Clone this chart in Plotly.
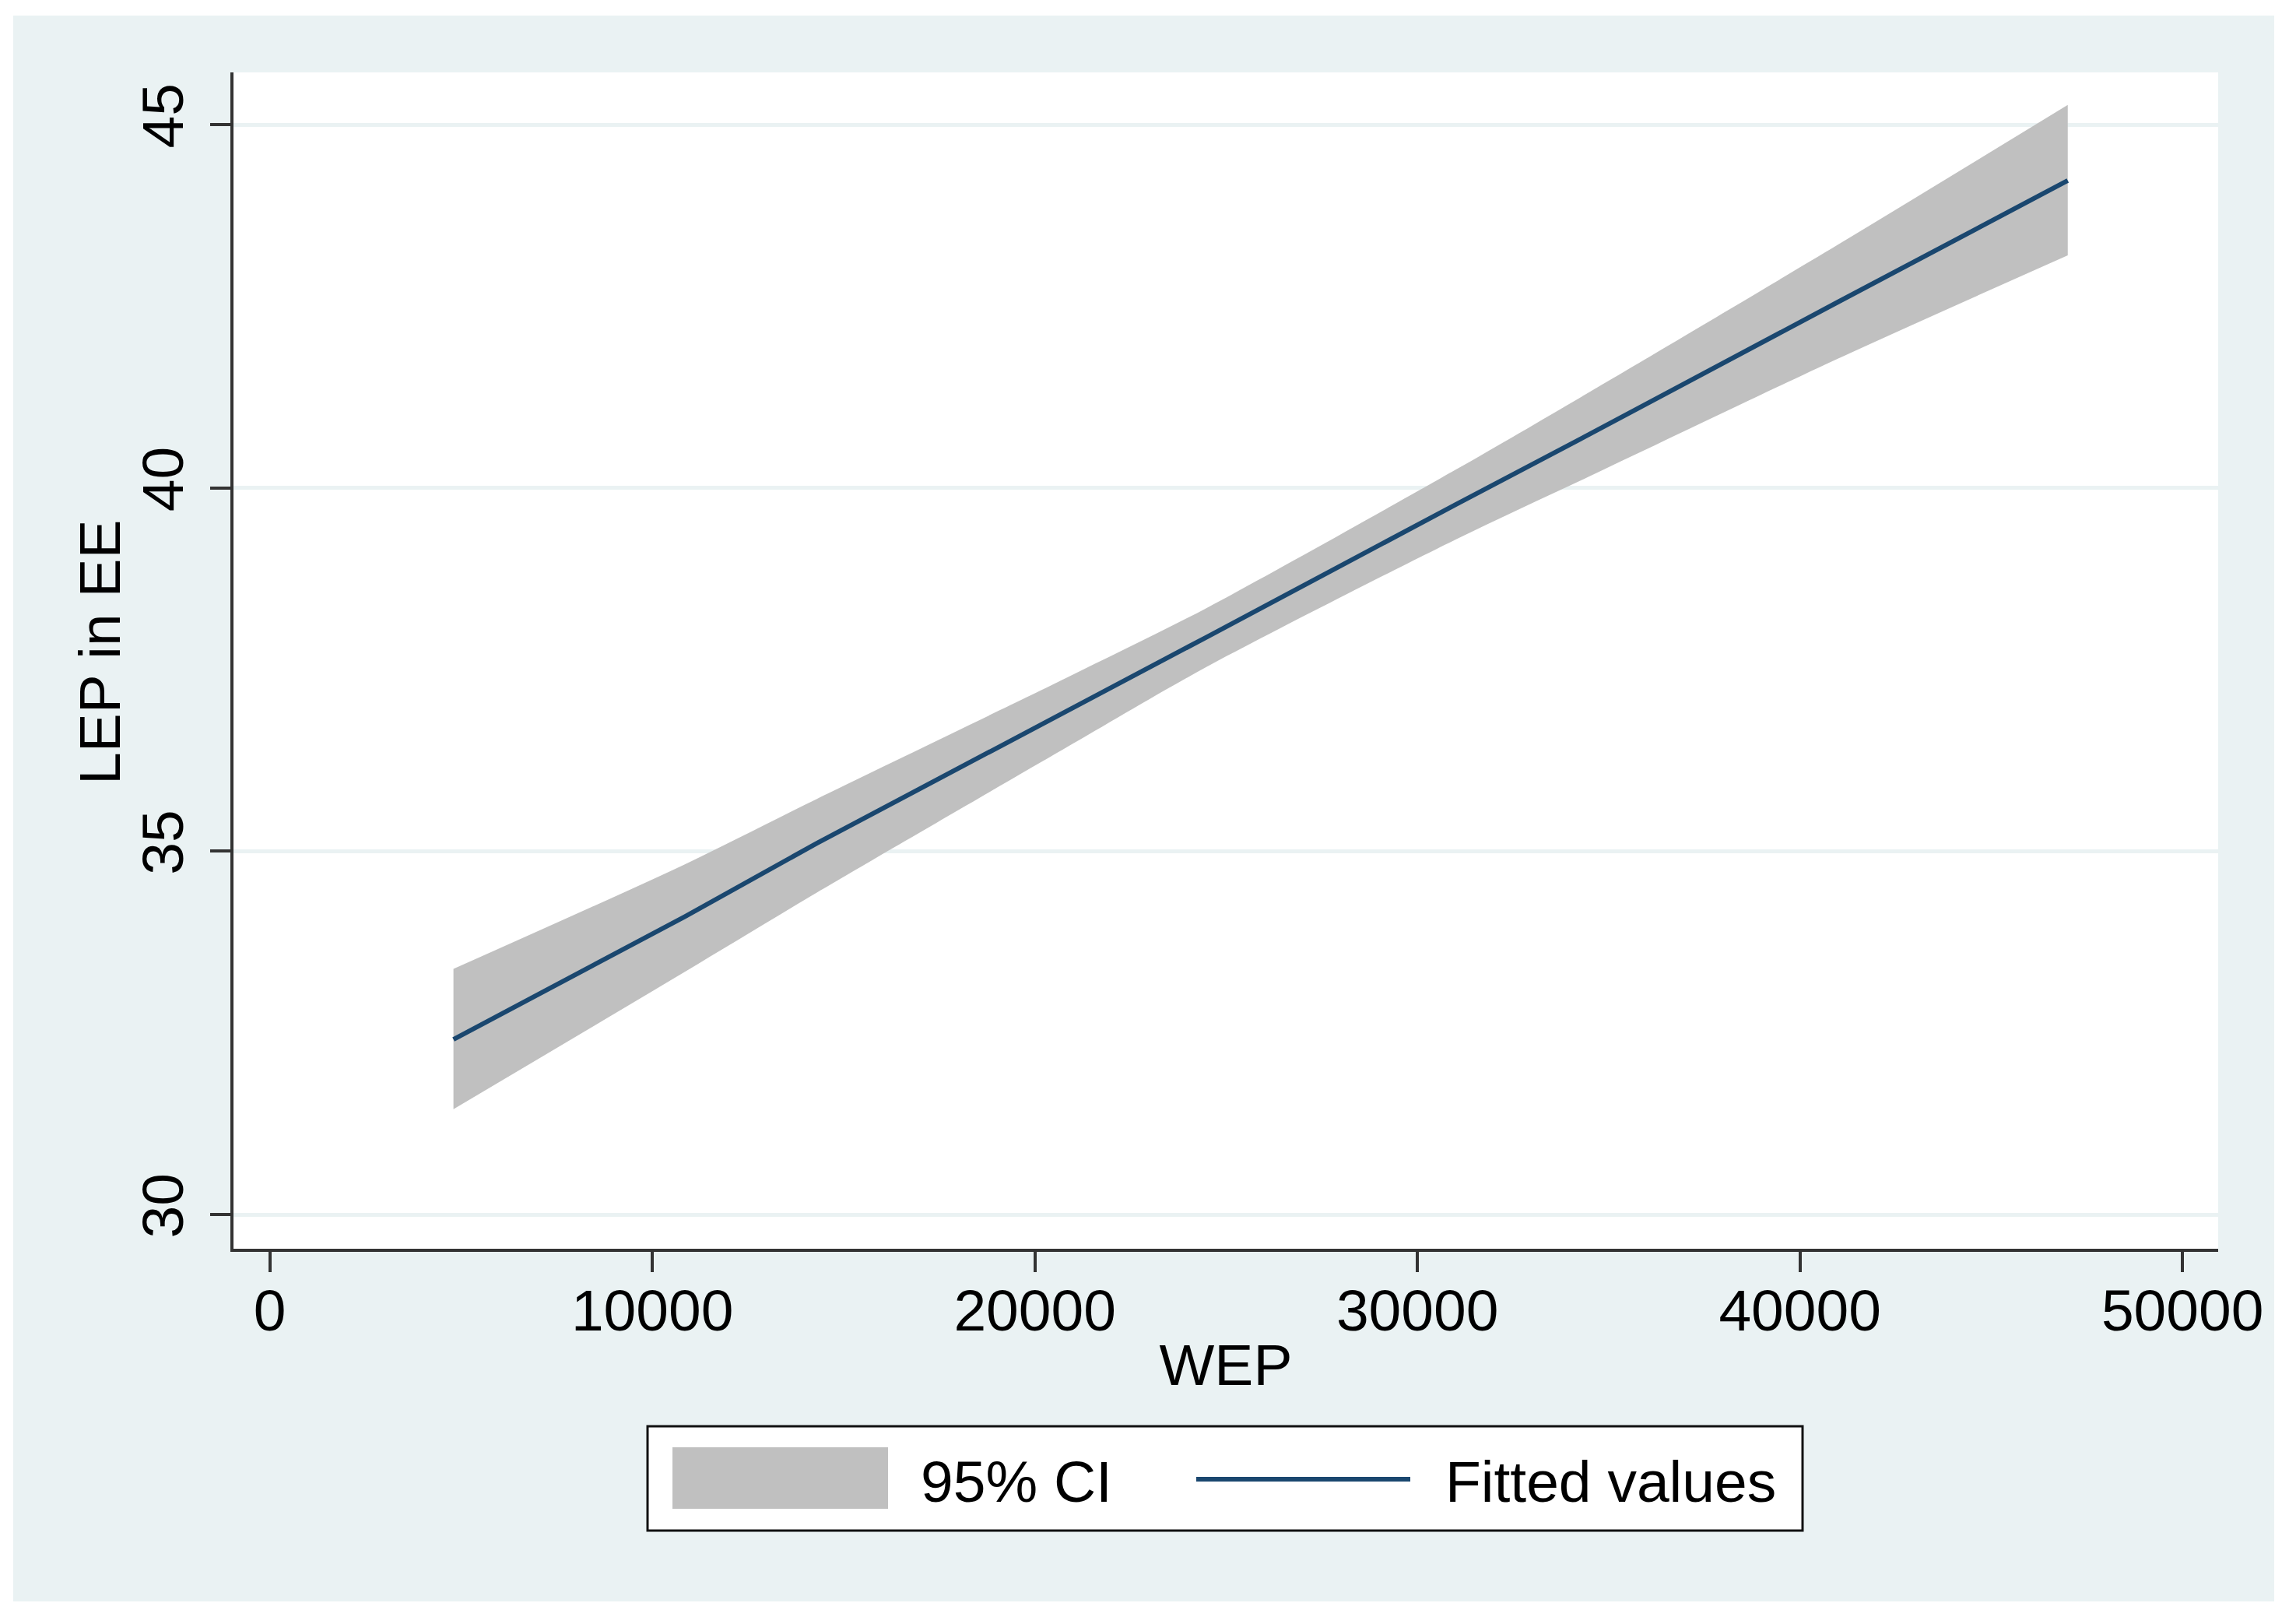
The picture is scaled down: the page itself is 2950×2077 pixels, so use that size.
import plotly.graph_objects as go

# ---- data ----
wep = [4800, 10850, 14300, 20800, 24500, 31000, 34500, 41000, 47000]
fitted = [32.41, 34.10, 35.11, 36.91, 37.95, 39.77, 40.74, 42.56, 44.23]
ci_upper = [33.38, 34.82, 35.72, 37.38, 38.35, 40.25, 41.32, 43.35, 45.27]
ci_lower = [31.45, 33.34, 34.43, 36.42, 37.54, 39.29, 40.16, 41.78, 43.20]

x_ticks = [0, 10000, 20000, 30000, 40000, 50000]
y_ticks = [30, 35, 40, 45]
x_title = "WEP"
y_title = "LEP in EE"
legend_labels = ["95% CI", "Fitted values"]

# ---- styling ----
W, H = 2950, 2077
L, R, T, B = 300, 100, 93, 473
PW, PH = W - L - R, H - T - B
BG = "#eaf2f3"
CI_COLOR = "#c0c0c0"
LINE_COLOR = "#1a476f"
FONT = "Arial, Liberation Sans, sans-serif"
FS = 75


def xp(px):
    return (px - L) / PW


def yp(py):
    return (H - B - py) / PH


fig = go.Figure()
fig.add_trace(go.Scatter(x=wep, y=ci_lower, mode="lines",
                         line=dict(width=0, shape="spline", smoothing=0.8),
                         showlegend=False, hoverinfo="skip", name="lower"))
fig.add_trace(go.Scatter(x=wep, y=ci_upper, mode="lines",
                         line=dict(width=0, shape="spline", smoothing=0.8),
                         fill="tonexty", fillcolor=CI_COLOR, showlegend=False,
                         name=legend_labels[0]))
fig.add_trace(go.Scatter(x=wep, y=fitted, mode="lines",
                         line=dict(color=LINE_COLOR, width=6),
                         showlegend=False, name=legend_labels[1]))

shapes = []
# white outer frame
for x0, x1, y0, y1 in [(0, 17, 0, H), (2922, W, 0, H), (0, W, 0, 20), (0, W, 2057, H)]:
    shapes.append(dict(type="rect", xref="paper", yref="paper",
                       x0=xp(x0), x1=xp(x1), y0=yp(y1), y1=yp(y0),
                       fillcolor="white", line=dict(width=0), layer="above"))
# legend box
shapes.append(dict(type="rect", xref="paper", yref="paper",
                   x0=xp(832), x1=xp(2316), y0=yp(1966), y1=yp(1832),
                   fillcolor="white", line=dict(color="#111111", width=3)))
shapes.append(dict(type="rect", xref="paper", yref="paper",
                   x0=xp(864), x1=xp(1141), y0=yp(1938), y1=yp(1859),
                   fillcolor=CI_COLOR, line=dict(width=0)))
shapes.append(dict(type="line", xref="paper", yref="paper",
                   x0=xp(1537), x1=xp(1812), y0=yp(1900), y1=yp(1900),
                   line=dict(color=LINE_COLOR, width=6)))

annotations = [
    dict(text=legend_labels[0], x=xp(1181), y=yp(1903), xref="paper", yref="paper",
         xanchor="left", yanchor="middle", showarrow=False,
         font=dict(family=FONT, size=FS, color="black")),
    dict(text=legend_labels[1], x=xp(1855), y=yp(1903), xref="paper", yref="paper",
         xanchor="left", yanchor="middle", showarrow=False,
         font=dict(family=FONT, size=FS, color="black")),
    dict(text=y_title, x=xp(128), y=yp(838), xref="paper", yref="paper",
         xanchor="center", yanchor="middle", textangle=-90, showarrow=False,
         font=dict(family=FONT, size=FS, color="black")),
]

fig.update_layout(
    width=W, height=H,
    margin=dict(l=L, r=R, t=T, b=B, autoexpand=False),
    paper_bgcolor=BG, plot_bgcolor="white",
    font=dict(family=FONT, size=FS, color="black"),
    shapes=shapes, annotations=annotations, showlegend=False,
)
fig.update_xaxes(
    range=[-950, 50932], tickvals=x_ticks, ticktext=[str(v) for v in x_ticks],
    showgrid=False, zeroline=False, showline=True, linecolor="#333333", linewidth=4,
    ticks="outside", ticklen=26, tickwidth=4, tickcolor="#333333",
    ticklabelstandoff=-15,
    tickfont=dict(family=FONT, size=FS, color="black"),
    title=dict(text=x_title, font=dict(family=FONT, size=FS, color="black"), standoff=3),
)
fig.update_yaxes(
    range=[29.529, 45.718], tickvals=y_ticks, ticktext=[str(v) for v in y_ticks],
    showgrid=True, gridcolor=BG, gridwidth=5, zeroline=False,
    showline=True, linecolor="#333333", linewidth=4,
    ticks="outside", ticklen=26, tickwidth=4, tickcolor="#333333", tickangle=-90,
    ticklabelstandoff=5,
    tickfont=dict(family=FONT, size=FS, color="black"),
)

fig.write_html("out.html", config={"displayModeBar": False},
               post_script="document.body.style.margin='0px';document.body.style.padding='0px';")
